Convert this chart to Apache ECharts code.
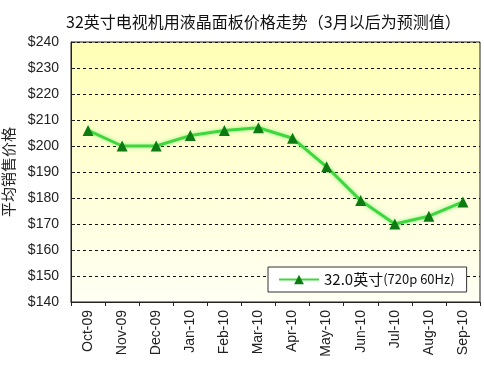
<!DOCTYPE html>
<html>
<head>
<meta charset="utf-8">
<script src="https://cdn.jsdelivr.net/npm/echarts@6/dist/echarts.min.js"></script>
<style>html,body{margin:0;padding:0;background:#fff;}#c{width:484px;height:375px;}</style>
</head>
<body>
<div id="c"></div>
<script>
var categories = ['Oct-09','Nov-09','Dec-09','Jan-10','Feb-10','Mar-10','Apr-10','May-10','Jun-10','Jul-10','Aug-10','Sep-10'];
var prices = [206, 200, 200, 204, 206, 207, 203, 192, 179, 170, 173, 178.5];
var seriesName = '32.0英寸(720p 60Hz)';
var yMin = 140, yMax = 240, yStep = 10;

var chart = echarts.init(document.getElementById('c'), null, {renderer: 'canvas'});
chart.setOption({
  animation: false,
  backgroundColor: '#fff',
  title: {
    text: '32英寸电视机用液晶面板价格走势（3月以后为预测值）',
    left: 61, top: 9,
    textStyle: {fontFamily: 'Noto Sans CJK SC', fontSize: 16, fontWeight: 'normal', color: '#111'}
  },
  grid: {
    left: 71, top: 42, right: 4, bottom: 73,
    outerBoundsMode: 'none',
    containLabel: false,
    show: true,
    borderColor: '#222', borderWidth: 1,
    backgroundColor: new echarts.graphic.LinearGradient(0, 0, 0, 1, [
      {offset: 0, color: '#ffffb6'},
      {offset: 1, color: '#fffff4'}
    ])
  },
  legend: {
    left: 268, top: 267,
    backgroundColor: '#fff',
    borderColor: '#333', borderWidth: 1, borderRadius: 0,
    padding: [5, 12, 5, 10],
    itemWidth: 40, itemHeight: 12, itemGap: 6,
    formatter: function () { return '{a|32.0英寸}{b|(720p 60Hz)}'; },
    textStyle: {
      rich: {
        a: {fontFamily: 'Noto Sans CJK SC', fontSize: 15, color: '#111'},
        b: {fontFamily: 'Noto Sans CJK SC', fontSize: 13, color: '#111'}
      }
    },
    data: [seriesName]
  },
  xAxis: {
    type: 'category',
    data: categories,
    boundaryGap: true,
    axisLine: {lineStyle: {color: '#222', width: 1}},
    axisTick: {show: true, length: 4, lineStyle: {color: '#222'}},
    axisLabel: {rotate: 90, margin: 8, fontFamily: 'Liberation Sans', fontSize: 14, color: '#222'},
    splitLine: {show: false}
  },
  yAxis: {
    type: 'value',
    min: yMin, max: yMax, interval: yStep,
    name: '平均销售价格',
    nameLocation: 'middle',
    nameGap: 55,
    nameRotate: 90,
    nameTextStyle: {fontFamily: 'Noto Sans CJK SC', fontSize: 15, color: '#222'},
    axisLine: {show: true, lineStyle: {color: '#222'}},
    axisTick: {show: true, inside: true, length: 4, lineStyle: {color: '#222'}},
    axisLabel: {formatter: function (v) { return '$' + v; }, fontFamily: 'Liberation Sans', fontSize: 14, color: '#222', margin: 12},
    splitLine: {show: true, lineStyle: {color: '#111', type: [3, 3], width: 1}}
  },
  series: [{
    name: seriesName,
    type: 'line',
    data: prices,
    symbol: 'triangle',
    symbolSize: 11,
    lineStyle: {color: '#3ed83e', width: 3, shadowColor: 'rgba(80,230,80,0.6)', shadowBlur: 4},
    itemStyle: {color: '#0d7a12', borderWidth: 0}
  }]
});
</script>
</body>
</html>
